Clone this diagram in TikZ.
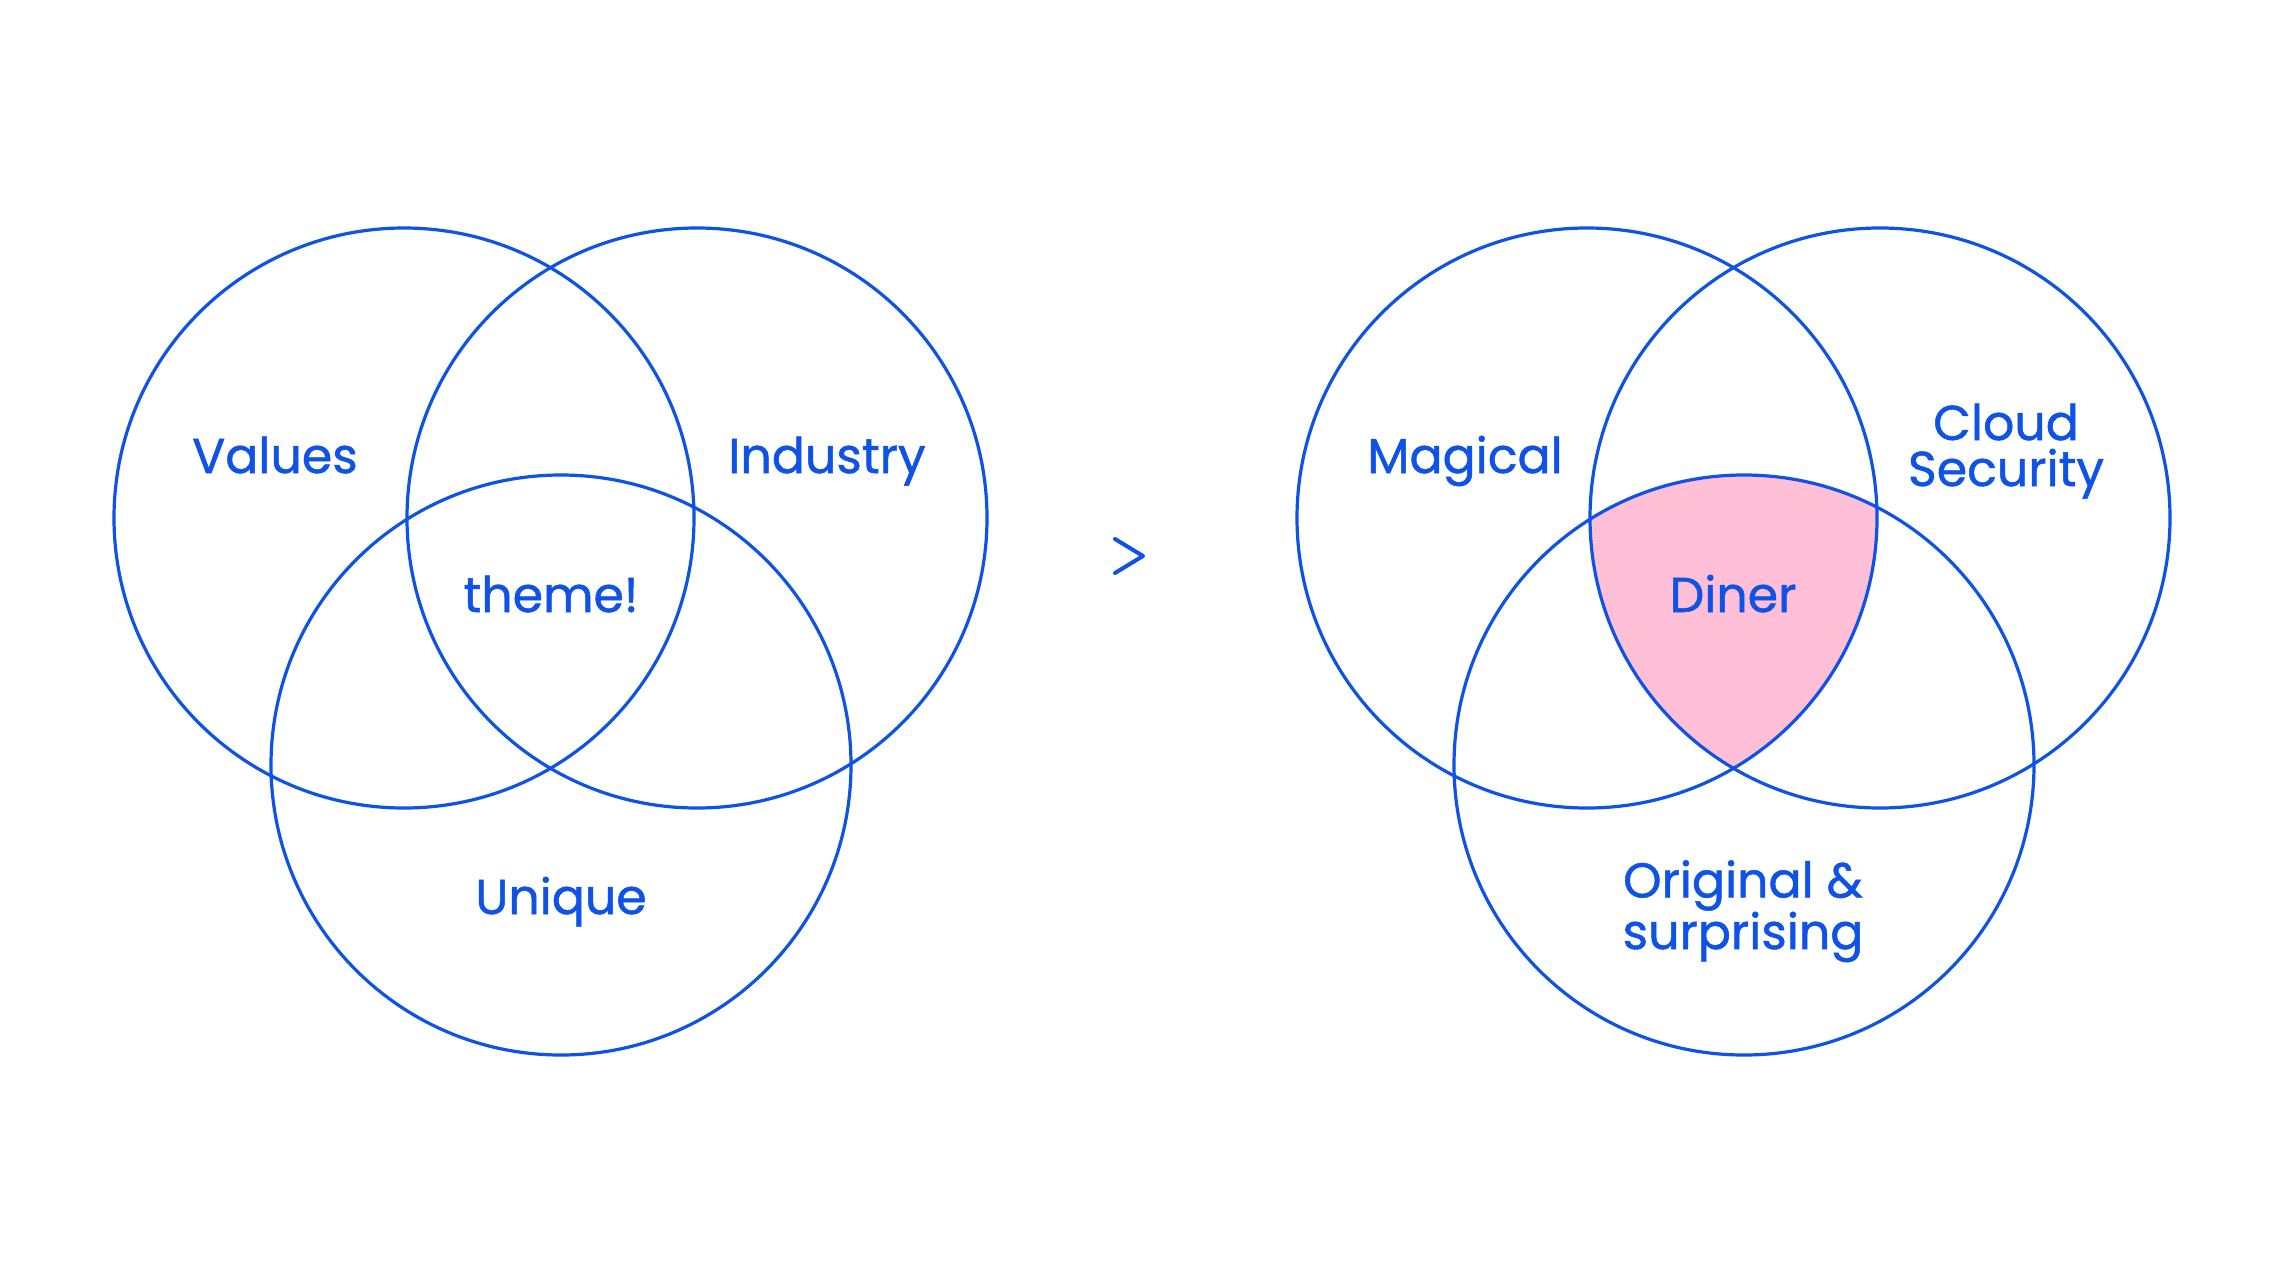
\documentclass[tikz,border=0pt]{standalone}
\usepackage{fontspec}
\newfontfamily\lab{Poppins}[FakeBold=1]
\definecolor{vblue}{RGB}{14,82,232}
\definecolor{vpink}{RGB}{255,191,215}
\begin{document}
\begin{tikzpicture}[x=1pt,y=-1pt,
  ring/.style={draw=vblue,line width=3.2pt},
  lbl/.style={text=vblue,font=\lab\fontsize{49}{46}\selectfont,anchor=base,inner sep=0pt,align=center}]
\fill[white] (0,0) rectangle (2281,1283);
\useasboundingbox (0,0) rectangle (2281,1283);
% left diagram
\coordinate (LA) at (404,518);
\coordinate (LB) at (697,518);
\coordinate (LC) at (561,765);
% right diagram
\coordinate (RA) at (1587,518);
\coordinate (RB) at (1880,518);
\coordinate (RC) at (1744,765);
\begin{scope}
  \clip (RA) circle (290);
  \clip (RB) circle (290);
  \fill[vpink] (RC) circle (290);
\end{scope}
\foreach \c in {LA,LB,LC,RA,RB,RC} \draw[ring] (\c) circle (290);
% labels
\node[lbl] (values) at (275,473) {Values};
\node[lbl] (industry) at (827,473) {Industry};
\node[lbl] (theme) at (551,612) {theme!};
\node[lbl] (unique) at (561,914) {Unique};
\node[lbl] (magical) at (1465,473) {Magical};
\node[lbl] (cloud) at (2006,486) {Cloud\\Security};
\node[lbl] (diner) at (1733,612) {Diner};
\node[lbl] (orig) at (1743,949) {Original \&\\surprising};
% arrow
\coordinate (g1) at (1115,539);
\coordinate (g2) at (1143,556);
\coordinate (g3) at (1115,573);
\draw[vblue,line width=4pt,line cap=round,line join=round] (g1) -- (g2) -- (g3);
\end{tikzpicture}
\end{document}
